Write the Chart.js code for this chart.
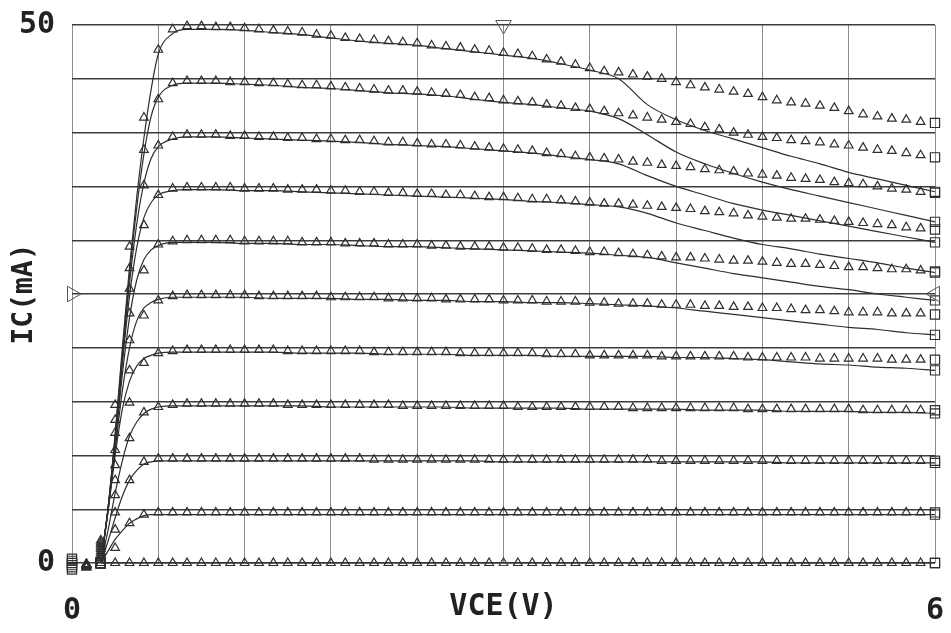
<!DOCTYPE html>
<html>
<head>
<meta charset="utf-8">
<title>IC - VCE</title>
<script src="https://cdn.jsdelivr.net/npm/chart.js@4/dist/chart.umd.min.js"></script>
<style>
    html, body { margin: 0; padding: 0; background: #fff; }
    #wrap { width: 951px; height: 633px; position: relative; }
</style>
</head>
<body>
<div id="wrap"><canvas id="chart-iv"></canvas></div>
<script>
// VCE (V) of the measured points, one every 0.1 V
const VCE_MEAS = [0,0.1,0.2,0.3,0.4,0.5,0.6,0.7,0.8,0.9,1.0,1.1,1.2,1.3,1.4,1.5,1.6,1.7,1.8,1.9,
    2.0,2.1,2.2,2.3,2.4,2.5,2.6,2.7,2.8,2.9,3.0,3.1,3.2,3.3,3.4,3.5,3.6,3.7,3.8,3.9,
    4.0,4.1,4.2,4.3,4.4,4.5,4.6,4.7,4.8,4.9,5.0,5.1,5.2,5.3,5.4,5.5,5.6,5.7,5.8,5.9,6.0];

// measured IC (mA), lowest base current first
const MEAS_0 = [0,-0.2,0,0,0,0,0,0,0,0,0,0,0,0,0,0,0,0,0,0,0,0,0,0,0,0,0,0,0,0,
    0,0,0,0,0,0,0,0,0,0,0,0,0,0,0,0,0,0,0,0,0,0,0,0,0,0,0,0,0,0,0];
const MEAS_1 = [0.2,-0.1,0.3,1.4,3.7,4.5,4.7,4.7,4.7,4.7,4.7,4.7,4.7,4.7,4.7,4.7,4.7,4.7,4.7,4.7,
    4.7,4.7,4.7,4.7,4.7,4.7,4.7,4.7,4.7,4.7,4.7,4.7,4.7,4.7,4.7,4.7,4.7,4.7,4.7,4.7,
    4.7,4.7,4.7,4.7,4.7,4.7,4.7,4.7,4.7,4.7,4.7,4.7,4.7,4.7,4.7,4.7,4.7,4.7,4.7,4.7,4.7];
const MEAS_2 = [0.4,-0.1,0.5,3.1,7.7,9.4,9.7,9.7,9.7,9.7,9.7,9.7,9.7,9.7,9.7,9.7,9.7,9.7,9.7,9.7,
    9.7,9.6,9.6,9.6,9.6,9.6,9.6,9.6,9.6,9.6,9.6,9.6,9.6,9.6,9.6,9.6,9.6,9.6,9.6,9.6,
    9.6,9.5,9.5,9.5,9.5,9.5,9.5,9.5,9.5,9.5,9.5,9.5,9.5,9.5,9.5,9.5,9.5,9.5,9.5,9.5,9.5];
const MEAS_3 = [-0.2,-0.1,0.7,4.7,11.6,14.0,14.5,14.7,14.8,14.8,14.8,14.8,14.8,14.8,14.8,14.7,14.7,14.7,14.7,14.7,
    14.7,14.7,14.7,14.6,14.6,14.6,14.6,14.6,14.6,14.6,14.6,14.5,14.5,14.5,14.5,14.5,14.5,14.5,14.5,14.4,
    14.4,14.4,14.4,14.4,14.4,14.4,14.4,14.3,14.3,14.3,14.3,14.3,14.3,14.3,14.3,14.2,14.2,14.2,14.2,14.2,14.2];
const MEAS_4 = [-0.4,-0.1,0.9,6.3,14.9,18.6,19.5,19.7,19.8,19.8,19.8,19.8,19.8,19.8,19.8,19.7,19.7,19.7,19.7,19.7,
    19.7,19.6,19.6,19.6,19.6,19.6,19.6,19.5,19.5,19.5,19.5,19.5,19.5,19.4,19.4,19.4,19.3,19.3,19.3,19.3,
    19.3,19.2,19.2,19.2,19.2,19.2,19.2,19.1,19.1,19.1,19.1,19.1,19.0,19.0,19.0,19.0,19.0,18.9,18.9,18.9,18.9];
const MEAS_5 = [-0.6,-0.2,1.1,7.7,17.9,23.0,24.4,24.8,24.9,24.9,24.9,24.9,24.9,24.8,24.8,24.8,24.8,24.8,24.7,24.7,
    24.7,24.7,24.6,24.6,24.6,24.6,24.5,24.5,24.5,24.5,24.4,24.4,24.4,24.3,24.3,24.3,24.2,24.2,24.1,24.1,
    24.1,24.0,24.0,24.0,23.9,23.9,23.8,23.8,23.7,23.7,23.6,23.5,23.5,23.4,23.3,23.3,23.3,23.2,23.2,23.2,23.1];
const MEAS_6 = [-0.8,-0.2,1.3,9.1,20.7,27.2,29.6,29.9,30.0,30.0,30.0,30.0,29.9,29.9,29.9,29.9,29.8,29.8,29.8,29.7,
    29.7,29.7,29.6,29.6,29.6,29.5,29.5,29.4,29.4,29.4,29.3,29.3,29.2,29.1,29.1,29.0,28.9,28.9,28.8,28.7,
    28.6,28.5,28.4,28.4,28.3,28.2,28.1,28.1,28.0,27.9,27.8,27.8,27.7,27.6,27.5,27.5,27.4,27.3,27.3,27.2,27.1];
const MEAS_7 = [-1.0,-0.3,1.5,10.5,23.2,31.4,34.2,34.8,34.9,34.9,34.9,34.9,34.8,34.8,34.8,34.7,34.7,34.7,34.6,34.6,
    34.5,34.5,34.4,34.4,34.3,34.3,34.2,34.2,34.1,34.0,34.0,33.9,33.8,33.8,33.7,33.6,33.5,33.4,33.4,33.3,
    33.2,33.1,33.0,32.9,32.7,32.6,32.5,32.3,32.2,32.1,32.0,32.0,31.9,31.8,31.7,31.6,31.5,31.4,31.2,31.1,31.0];
const MEAS_8 = [-1.1,-0.3,1.7,12.1,25.5,35.1,38.8,39.6,39.8,39.8,39.8,39.7,39.7,39.6,39.6,39.5,39.5,39.4,39.4,39.3,
    39.3,39.2,39.1,39.1,39.0,38.9,38.9,38.8,38.7,38.6,38.5,38.4,38.3,38.1,38.0,37.8,37.7,37.6,37.5,37.3,
    37.2,37.0,36.9,36.8,36.6,36.5,36.4,36.2,36.1,36.0,35.8,35.7,35.6,35.4,35.3,35.2,35.0,34.8,34.7,34.5,34.4];
const MEAS_9 = [-1.2,-0.4,1.9,13.3,27.4,38.4,43.1,44.6,44.8,44.8,44.8,44.7,44.7,44.6,44.6,44.5,44.4,44.4,44.3,44.2,
    44.1,44.0,43.9,43.9,43.8,43.7,43.6,43.5,43.3,43.2,43.0,42.9,42.8,42.6,42.5,42.3,42.2,42.0,41.8,41.6,
    41.4,41.2,41.0,40.8,40.5,40.3,40.0,39.8,39.6,39.5,39.3,39.2,39.1,38.9,38.8,38.6,38.4,38.3,38.1,37.9,37.7];
const MEAS_10 = [-1.3,-0.4,2.1,14.7,29.4,41.4,47.7,49.6,49.9,49.9,49.8,49.8,49.7,49.6,49.5,49.4,49.3,49.1,49.0,48.8,
    48.7,48.6,48.5,48.4,48.3,48.1,48.0,47.9,47.7,47.6,47.4,47.3,47.1,46.8,46.6,46.3,46.0,45.7,45.6,45.4,
    45.2,45.0,44.7,44.4,44.2,44.0,43.8,43.6,43.3,43.0,42.8,42.7,42.5,42.3,42.0,41.7,41.5,41.3,41.2,41.0,40.9];

// VCE (V) of the simulated curves
const VCE_SIM = [0.2,0.25,0.3,0.35,0.4,0.45,0.5,0.55,0.6,0.7,0.8,
    1.0,1.2,1.4,1.6,1.8,2.0,2.2,2.4,2.6,2.8,3.0,3.2,3.4,3.6,3.8,
    4.0,4.2,4.4,4.6,4.8,5.0,5.2,5.4,5.6,5.8,6.0];

// simulated IC (mA)
const SIM_0 = [0,0,0,0,0,0,0,0,0,0,0,0,0,0,0,0,0,0,0,0,0,0,0,0,0,0,0,0,0,0,0,0,0,0,0,0,0];
const SIM_1 = [0,1.1,2.2,3.0,3.7,4.1,4.4,4.5,4.5,4.5,4.5,
    4.5,4.5,4.5,4.5,4.5,4.5,4.5,4.5,4.5,4.5,4.5,4.5,4.5,4.5,4.5,
    4.5,4.5,4.5,4.5,4.5,4.5,4.5,4.5,4.5,4.5,4.5];
const SIM_2 = [0,2,4.2,6.2,7.7,8.6,9.2,9.4,9.5,9.5,9.5,
    9.5,9.5,9.5,9.5,9.5,9.5,9.5,9.5,9.5,9.5,9.4,9.4,9.4,9.4,9.4,
    9.4,9.4,9.4,9.4,9.4,9.3,9.3,9.3,9.3,9.3,9.3];
const SIM_3 = [0,3,6.5,9.5,11.8,13.1,13.9,14.3,14.5,14.6,14.6,
    14.6,14.6,14.6,14.6,14.5,14.5,14.5,14.5,14.5,14.4,14.4,14.4,14.4,14.3,14.3,
    14.3,14.3,14.2,14.2,14.2,14.1,14.1,14.1,14.0,14.0,13.9];
const SIM_4 = [0,4.7,10,14.3,16.9,18.3,19,19.3,19.5,19.6,19.6,
    19.6,19.6,19.6,19.5,19.5,19.5,19.4,19.4,19.4,19.3,19.3,19.3,19.2,19.2,19.2,
    19.2,19.1,19.1,19.0,18.9,18.7,18.5,18.4,18.2,18.1,17.9];
const SIM_5 = [0,4.8,10.5,16,20,22.5,23.7,24.2,24.5,24.7,24.7,
    24.7,24.7,24.6,24.6,24.6,24.5,24.5,24.4,24.4,24.3,24.3,24.2,24.2,24.1,24.0,
    23.9,23.7,23.4,23.1,22.8,22.5,22.2,21.9,21.7,21.4,21.2];
const SIM_6 = [0,4.9,10.9,17.5,22.8,26.3,28.2,29.1,29.5,29.8,29.8,
    29.8,29.7,29.7,29.6,29.6,29.5,29.4,29.4,29.3,29.2,29.1,29.0,28.9,28.8,28.6,
    28.4,27.9,27.4,26.9,26.5,26.1,25.7,25.4,25.0,24.7,24.4];
const SIM_7 = [0,5,11.2,18.5,24.8,29.3,32.1,33.5,34.2,34.6,34.7,
    34.7,34.6,34.6,34.5,34.4,34.3,34.2,34.1,34.0,33.9,33.8,33.6,33.5,33.3,33.1,
    32.5,31.6,30.9,30.2,29.6,29.2,28.7,28.3,27.9,27.4,27.0];
const SIM_8 = [0,5,11.5,19,26,31.5,35.3,37.6,38.7,39.4,39.6,
    39.6,39.5,39.4,39.3,39.2,39.1,38.9,38.8,38.7,38.5,38.3,38.1,37.8,37.5,37.1,
    36.0,35.0,34.2,33.4,32.8,32.3,31.8,31.3,30.8,30.3,29.8];
const SIM_9 = [0,5,11.8,19.5,26.8,33,38,41.5,43.3,44.4,44.6,
    44.6,44.5,44.4,44.2,44.1,43.9,43.7,43.6,43.4,43.1,42.8,42.6,42.3,42.0,41.3,
    39.8,38.2,37.1,36.2,35.4,34.7,34.1,33.5,32.9,32.3,31.7];
const SIM_10 = [0,5,12,20,27.5,34,39.5,44,47.3,49.2,49.6,
    49.6,49.5,49.3,49.1,48.8,48.5,48.3,48.1,47.8,47.5,47.2,46.9,46.4,45.8,45.0,
    42.6,41.2,40.2,39.4,38.6,37.8,37.1,36.3,35.7,35.1,34.5];

// cursor marks on the frame
const CURSOR_V = [3, 0, 6, 3];
const CURSOR_I = [50, 25, 25, 0];

const MEAS = [MEAS_0, MEAS_1, MEAS_2, MEAS_3, MEAS_4, MEAS_5, MEAS_6, MEAS_7, MEAS_8, MEAS_9, MEAS_10];
const SIM = [SIM_0, SIM_1, SIM_2, SIM_3, SIM_4, SIM_5, SIM_6, SIM_7, SIM_8, SIM_9, SIM_10];

const INK = '#2e2e2e';
const FONT = "'DejaVu Sans Mono', monospace";

function toPoints(xs, ys) {
    return ys.map((y, i) => ({ x: xs[i], y }));
}

// end points are squares, the rest triangles (measured) or nothing (simulated)
function endStyle(n, mid) {
    return Array.from({ length: n }, (_, i) => (i === 0 || i === n - 1) ? 'rect' : mid);
}
function endRadius(n, mid) {
    return Array.from({ length: n }, (_, i) => (i === 0 || i === n - 1) ? 6.5 : mid);
}

// keep the plot frame where the scale box says, without label overhang padding
function noOverhang(s) {
    s.paddingTop = 0;
    s.paddingBottom = 0;
    s.paddingLeft = 0;
    s.paddingRight = 0;
}

function buildDatasets() {
    const sets = [];
    SIM.forEach((ys, k) => {
        sets.push({
            label: 'sim ' + k,
            data: toPoints(VCE_SIM, ys),
            showLine: true,
            cubicInterpolationMode: 'monotone',
            borderColor: INK,
            borderWidth: 1.2,
            pointStyle: 'rect',
            pointRadius: endRadius(ys.length, 0),
            pointBorderColor: INK,
            pointBorderWidth: 1.1,
            pointBackgroundColor: 'rgba(0,0,0,0)',
            clip: false,
            order: 2
        });
    });
    MEAS.forEach((ys, k) => {
        sets.push({
            label: 'meas ' + k,
            data: toPoints(VCE_MEAS, ys),
            showLine: false,
            pointStyle: endStyle(ys.length, 'triangle'),
            pointRadius: endRadius(ys.length, 5),
            pointBorderColor: INK,
            pointBorderWidth: 1.2,
            pointBackgroundColor: 'rgba(0,0,0,0)',
            clip: false,
            order: 1
        });
    });
    sets.push({
        label: 'cursor',
        data: toPoints(CURSOR_V, CURSOR_I),
        showLine: false,
        pointStyle: 'triangle',
        rotation: [180, 90, -90, 0],
        pointRadius: [9, 9, 9, 5],
        pointBorderColor: '#555',
        pointBorderWidth: 1,
        pointBackgroundColor: 'rgba(0,0,0,0)',
        clip: false,
        order: 0
    });
    return sets;
}

function renderChart() {
    const ctx = document.getElementById('chart-iv');
    new Chart(ctx, {
        type: 'scatter',
        data: { datasets: buildDatasets() },
        options: {
            responsive: true,
            maintainAspectRatio: false,
            animation: false,
            events: [],
            layout: { padding: { top: 25, right: 16, left: 0, bottom: 0 } },
            plugins: { legend: { display: false }, tooltip: { enabled: false } },
            scales: {
                x: {
                    type: 'linear',
                    min: 0,
                    max: 6,
                    afterFit: s => { s.height = 70; noOverhang(s); },
                    border: { display: false },
                    grid: { color: '#8c8c8c', lineWidth: 1, drawTicks: false },
                    ticks: {
                        stepSize: 0.6,
                        autoSkip: false,
                        maxRotation: 0,
                        padding: 30,
                        color: '#222',
                        font: { family: FONT, size: 30, weight: 'bold' },
                        callback: v => (Math.abs(v) < 1e-6 ? '0' : (Math.abs(v - 6) < 1e-6 ? '6' : ''))
                    },
                    title: {
                        display: true,
                        text: 'VCE(V)',
                        color: '#222',
                        font: { family: FONT, size: 30, weight: 'bold' },
                        padding: { top: 0, bottom: 8 }
                    }
                },
                y: {
                    type: 'linear',
                    min: 0,
                    max: 50,
                    afterFit: s => { s.width = 72; noOverhang(s); },
                    border: { display: false },
                    grid: { color: '#3c3c3c', lineWidth: 1.4, drawTicks: false },
                    ticks: {
                        stepSize: 5,
                        autoSkip: false,
                        padding: 17,
                        color: '#222',
                        font: { family: FONT, size: 30, weight: 'bold' },
                        callback: v => (v === 0 ? '0' : (v === 50 ? '50' : ''))
                    },
                    title: {
                        display: true,
                        text: 'IC(mA)',
                        color: '#222',
                        font: { family: FONT, size: 28, weight: 'bold' },
                        padding: { top: 8, bottom: 0 }
                    }
                }
            }
        }
    });
}

renderChart();
</script>
</body>
</html>
